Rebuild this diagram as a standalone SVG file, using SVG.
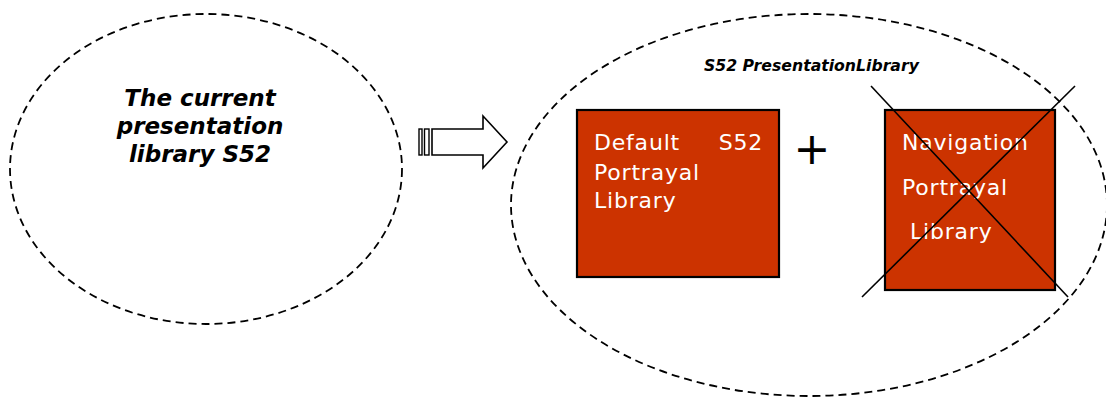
<svg xmlns="http://www.w3.org/2000/svg" width="1106" height="397" viewBox="0 0 1106 397">
<style>
.ell{fill:none;stroke:#000;stroke-width:1.8;stroke-dasharray:8 5}
.box{fill:#CC3300;stroke:#000;stroke-width:2.2}
.bt{font-family:"DejaVu Sans",Verdana,sans-serif;font-size:22px;fill:#fff;letter-spacing:0.8px}
.bi{font-family:"DejaVu Sans",Verdana,sans-serif;font-weight:bold;font-style:italic;fill:#000}
.ln{stroke:#000;stroke-width:1.6}
</style>
<rect width="1106" height="397" fill="#fff"/>
<g id="current">
<ellipse class="ell" cx="206" cy="169" rx="196" ry="155"/>
<text class="bi" font-size="23" text-anchor="middle"><tspan x="200" y="106">The current</tspan><tspan x="200" y="134">presentation</tspan><tspan x="200" y="162">library S52</tspan></text>
</g>
<g id="connectors">
<rect x="419" y="129" width="3" height="26" fill="#fff" stroke="#000" stroke-width="1.4"/>
<rect x="424.5" y="129" width="4.5" height="26" fill="#fff" stroke="#000" stroke-width="1.4"/>
<polygon points="432,129 483,129 483,116 507,142 483,168 483,155 432,155" fill="#fff" stroke="#000" stroke-width="1.6"/>
</g>
<g id="s52lib">
<ellipse class="ell" cx="809" cy="205" rx="298" ry="191"/>
<text class="bi" font-size="15.7" x="704" y="71">S52 PresentationLibrary</text>
</g>
<g id="default">
<rect class="box" x="577" y="110" width="202" height="167"/>
<text class="bt" x="594" y="150">Default</text>
<text class="bt" x="763" y="150" text-anchor="end" letter-spacing="0">S52</text>
<text class="bt" x="594" y="180">Portrayal</text>
<text class="bt" x="594" y="208">Library</text>
</g>
<g id="plus">
<text x="812" y="164" font-family="DejaVu Sans,sans-serif" font-size="44" text-anchor="middle" fill="#000">+</text>
</g>
<g id="navigation">
<rect class="box" x="885" y="110" width="170" height="180"/>
<text class="bt" x="902" y="150">Navigation</text>
<text class="bt" x="902" y="195">Portrayal</text>
<text class="bt" x="910" y="239">Library</text>
<line class="ln" x1="871" y1="86" x2="1068" y2="297"/>
<line class="ln" x1="1075" y1="86" x2="862" y2="297"/>
</g>
</svg>
